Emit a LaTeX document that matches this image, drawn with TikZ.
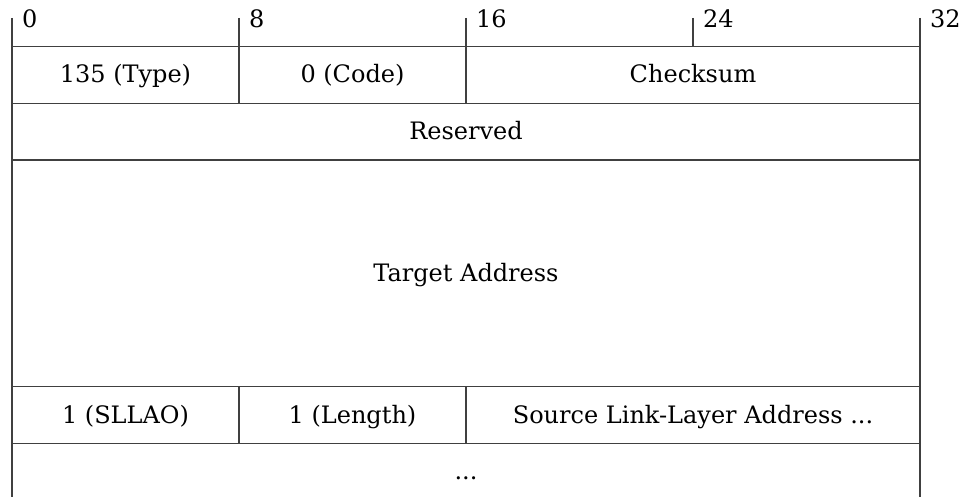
\documentclass[tikz,border=0pt]{standalone}
\usepackage{fontspec}
\setmainfont{DejaVu Serif}
\begin{document}
\begin{tikzpicture}[x=1pt,y=-1pt,
  grid/.style={draw=black!75,line width=1.3pt},
  lbl/.style={font=\fontsize{24}{28}\selectfont,inner sep=0pt,anchor=base},
  bitlbl/.style={font=\fontsize{24}{28}\selectfont,inner sep=0pt,anchor=base west}]
\useasboundingbox (0,0) rectangle (968,497);
% ticks and border
\foreach \x in {239,466,693} \draw[grid] (\x,18) -- (\x,46.7);
\draw[grid] (12,18) -- (12,500);
\draw[grid] (920,18) -- (920,500);
% horizontal lines
\foreach \y in {46.7,103.3,160,386.7,443.3,500} \draw[grid] (12,\y) -- (920,\y);
% inner verticals
\draw[grid] (239,46.7) -- (239,103.3);
\draw[grid] (466,46.7) -- (466,103.3);
\draw[grid] (239,386.7) -- (239,443.3);
\draw[grid] (466,386.7) -- (466,443.3);
% bit labels
\node[bitlbl] (b0) at (22,28) {0};
\node[bitlbl] (b8) at (249,28) {8};
\node[bitlbl] (b16) at (476,28) {16};
\node[bitlbl] (b24) at (703,28) {24};
\node[bitlbl] (b32) at (930,28) {32};
% field labels
\node[lbl] (type) at (125.5,83) {135 (Type)};
\node[lbl] (code) at (352.5,83) {0 (Code)};
\node[lbl] (csum) at (693,83) {Checksum};
\node[lbl] (res) at (466,139.7) {Reserved};
\node[lbl] (tgt) at (466,281.7) {Target Address};
\node[lbl] (sllao) at (125.5,423) {1 (SLLAO)};
\node[lbl] (len) at (352.5,423) {1 (Length)};
\node[lbl] (slla) at (693,423) {Source Link-Layer Address ...};
\node[lbl] (more) at (466,479.7) {...};
\end{tikzpicture}
\end{document}
